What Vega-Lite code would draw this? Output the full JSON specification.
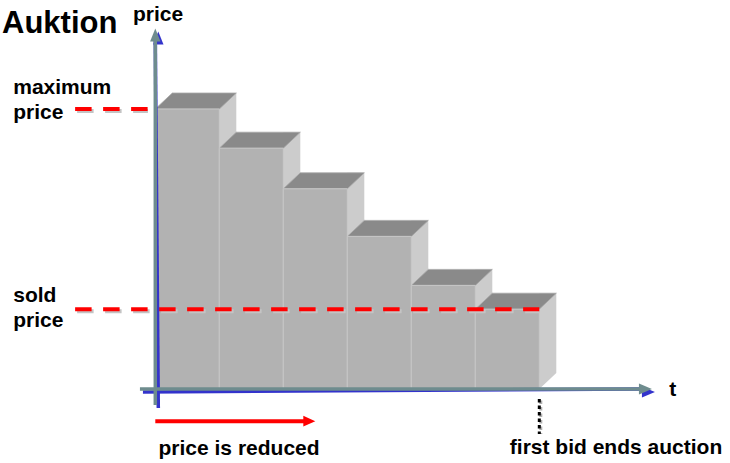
{
  "$schema": "https://vega.github.io/schema/vega-lite/v6.json",
  "description": "Dutch auction: the asking price steps down over time until the first bid ends the auction.",
  "width": 730,
  "height": 463,
  "padding": 0,
  "autosize": {"type": "none"},
  "background": "white",
  "config": {
    "view": {"stroke": null},
    "text": {"font": "Liberation Sans", "fontWeight": "bold", "color": "black"}
  },
  "datasets": {
    "steps": [
      {"step": 1, "t": 0, "t2": 1, "p": 100},
      {"step": 2, "t": 1, "t2": 2, "p": 86},
      {"step": 3, "t": 2, "t2": 3, "p": 71.5},
      {"step": 4, "t": 3, "t2": 4, "p": 54.5},
      {"step": 5, "t": 4, "t2": 5, "p": 37},
      {"step": 6, "t": 5, "t2": 6, "p": 28.5}
    ],
    "levels": [
      {"level": "maximum price", "t": -1.253, "t2": -0.115, "p": 100},
      {"level": "sold price", "t": -1.253, "t2": 6, "p": 28.5}
    ],
    "axes": [
      {"axis": "price", "t": 0, "t2": 0, "p": -5.7, "p2": 124.5},
      {"axis": "t", "t": -0.24, "t2": 7.6, "p": 0, "p2": 0}
    ],
    "heads": [
      {"axis": "price", "t": 0, "p": 128.75},
      {"axis": "t", "t": 7.76, "p": 0}
    ],
    "reduction": [
      {"t": 0, "t2": 2.33, "p": -11.5, "tip": 2.5}
    ],
    "end": [
      {"t": 6, "p": -3.6, "p2": -16.1}
    ],
    "labels": [
      {"label": "price", "t": -0.35, "p": 131.4},
      {"label": "maximum", "t": -2.22, "p": 105.2},
      {"label": "price", "t": -2.22, "p": 96.6},
      {"label": "sold", "t": -2.22, "p": 31.1},
      {"label": "price", "t": -2.22, "p": 22.1},
      {"label": "t", "t": 8.03, "p": -2.5},
      {"label": "price is reduced", "t": 0.05, "p": -23.6},
      {"label": "first bid ends auction", "t": 5.54, "p": -23.2}
    ],
    "heading": [
      {"label": "Auktion", "t": -2.395, "p": 127.1}
    ]
  },
  "encoding": {
    "x": {"field": "t", "type": "quantitative", "scale": {"domain": [-2.4266, 8.9797], "nice": false, "zero": false}, "axis": null},
    "y": {"field": "p", "type": "quantitative", "scale": {"domain": [-26.43, 138.93], "nice": false, "zero": false}, "axis": null}
  },
  "layer": [
    {
      "data": {"name": "steps"},
      "mark": {"type": "rect", "color": "#cccccc", "x2Offset": 17, "yOffset": -16, "y2Offset": -16},
      "encoding": {
        "x": {"field": "t2", "type": "quantitative"},
        "x2": {"field": "t2"},
        "y2": {"datum": 0}
      }
    },
    {
      "data": {"name": "steps"},
      "mark": {"type": "point", "shape": "M0,0 L0,-0.5 L0.53125,-0.5 Z", "size": 4096, "filled": true, "opacity": 1, "color": "#cccccc", "strokeWidth": 0},
      "encoding": {
        "x": {"field": "t2", "type": "quantitative"},
        "y": {"datum": 0}
      }
    },
    {
      "data": {"name": "steps"},
      "mark": {"type": "point", "shape": "M0,0 L2,0 L2.53125,-0.5 L0.53125,-0.5 Z", "size": 4096, "filled": true, "opacity": 1, "fill": "#8a8a8a", "stroke": "#a8a8a8", "strokeWidth": 0.8}
    },
    {
      "data": {"name": "steps"},
      "mark": {"type": "rect", "fill": "#b2b2b2", "stroke": "#c6c6c6", "strokeWidth": 1},
      "encoding": {
        "x2": {"field": "t2"},
        "y2": {"datum": 0}
      }
    },
    {
      "data": {"name": "levels"},
      "mark": {"type": "rule", "color": "#c4c4c4", "strokeWidth": 4, "strokeDash": [16.5, 11.5], "xOffset": 2, "yOffset": 2},
      "encoding": {"x2": {"field": "t2"}}
    },
    {
      "data": {"name": "levels"},
      "mark": {"type": "rule", "color": "#ff0000", "strokeWidth": 4, "strokeDash": [16.5, 11.5]},
      "encoding": {"x2": {"field": "t2"}}
    },
    {
      "data": {"name": "axes"},
      "mark": {"type": "rule", "color": "#3333cc", "strokeWidth": 3.5, "xOffset": 3, "yOffset": 3},
      "encoding": {"x2": {"field": "t2"}, "y2": {"field": "p2"}}
    },
    {
      "data": {"name": "heads"},
      "transform": [{"filter": "datum.axis === 'price'"}],
      "mark": {"type": "point", "shape": "M0,0 L0.8,2 L-0.8,2 Z", "size": 169, "filled": true, "opacity": 1, "color": "#3333cc", "strokeWidth": 0, "xOffset": 3, "yOffset": 3}
    },
    {
      "data": {"name": "heads"},
      "transform": [{"filter": "datum.axis === 't'"}],
      "mark": {"type": "point", "shape": "M0,0 L-2,-0.85 L-2,0.85 Z", "size": 169, "filled": true, "opacity": 1, "color": "#3333cc", "strokeWidth": 0, "xOffset": 3, "yOffset": 3}
    },
    {
      "data": {"name": "axes"},
      "mark": {"type": "rule", "color": "#6e8c8e", "strokeWidth": 3.5},
      "encoding": {"x2": {"field": "t2"}, "y2": {"field": "p2"}}
    },
    {
      "data": {"name": "heads"},
      "transform": [{"filter": "datum.axis === 'price'"}],
      "mark": {"type": "point", "shape": "M0,0 L0.8,2 L-0.8,2 Z", "size": 169, "filled": true, "opacity": 1, "color": "#6e8c8e", "strokeWidth": 0}
    },
    {
      "data": {"name": "heads"},
      "transform": [{"filter": "datum.axis === 't'"}],
      "mark": {"type": "point", "shape": "M0,0 L-2,-0.85 L-2,0.85 Z", "size": 169, "filled": true, "opacity": 1, "color": "#6e8c8e", "strokeWidth": 0}
    },
    {
      "data": {"name": "reduction"},
      "mark": {"type": "rule", "color": "#ff0000", "strokeWidth": 4},
      "encoding": {"x2": {"field": "t2"}}
    },
    {
      "data": {"name": "reduction"},
      "mark": {"type": "point", "shape": "M0,0 L-2,-0.9 L-2,0.9 Z", "size": 144, "filled": true, "opacity": 1, "color": "#ff0000", "strokeWidth": 0},
      "encoding": {"x": {"field": "tip", "type": "quantitative"}}
    },
    {
      "data": {"name": "end"},
      "mark": {"type": "rule", "color": "#b0b0b0", "strokeWidth": 3, "strokeDash": [3.5, 3], "xOffset": 1.5, "yOffset": 1.5},
      "encoding": {"y2": {"field": "p2"}}
    },
    {
      "data": {"name": "end"},
      "mark": {"type": "rule", "color": "#000000", "strokeWidth": 3, "strokeDash": [3.5, 3]},
      "encoding": {"y2": {"field": "p2"}}
    },
    {
      "data": {"name": "labels"},
      "mark": {"type": "text", "align": "left", "baseline": "alphabetic", "fontSize": 21},
      "encoding": {"text": {"field": "label"}}
    },
    {
      "data": {"name": "heading"},
      "mark": {"type": "text", "align": "left", "baseline": "alphabetic", "fontSize": 31},
      "encoding": {"text": {"field": "label"}}
    }
  ]
}
